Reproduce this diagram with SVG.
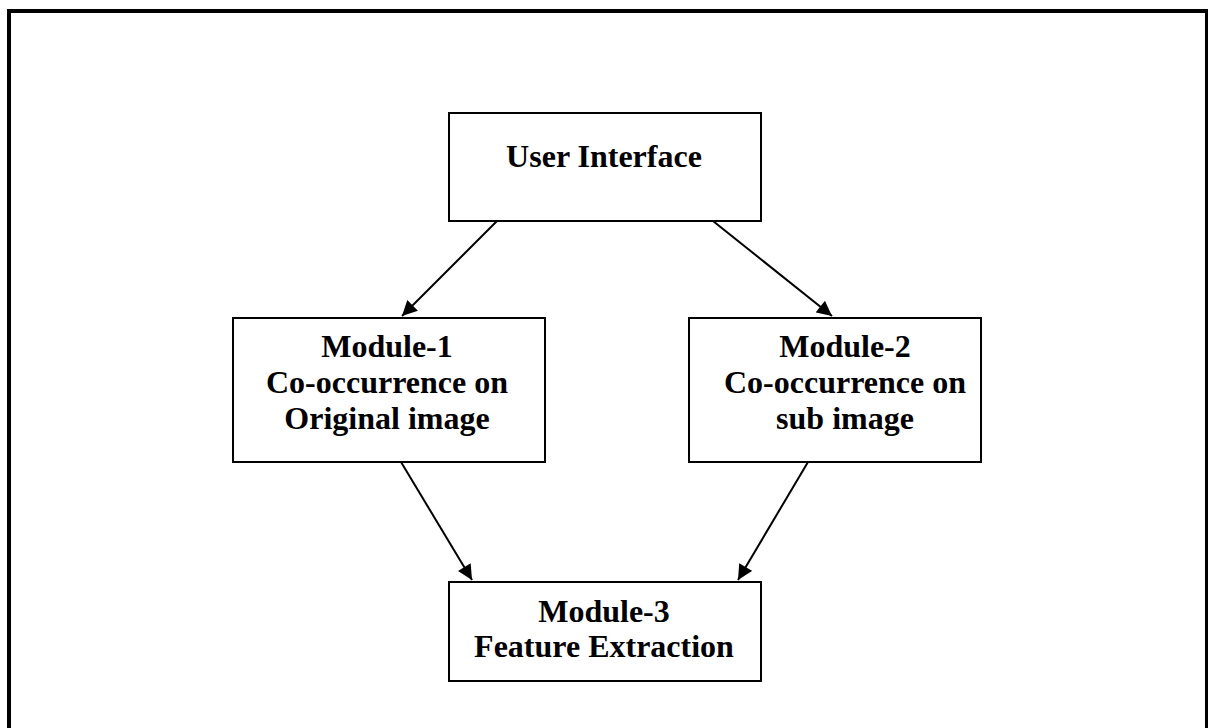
<svg xmlns="http://www.w3.org/2000/svg" width="1208" height="728" viewBox="0 0 1208 728">
  <style>
    .frame { fill: none; stroke: #000; stroke-width: 4; }
    .box { fill: #fff; stroke: #000; stroke-width: 2; }
    .label { font-family: "Liberation Serif", "Times New Roman", serif; font-weight: bold; font-size: 32px; fill: #000; text-anchor: middle; }
    .edge { stroke: #000; stroke-width: 2; fill: none; marker-end: url(#arrow); }
  </style>
  <defs>
    <marker id="arrow" viewBox="0 0 10 10" refX="10" refY="5" markerWidth="8" markerHeight="7.5" markerUnits="strokeWidth" orient="auto">
      <path d="M0,0 L10,5 L0,10 z" fill="#000"/>
    </marker>
  </defs>

  <rect width="1208" height="728" fill="#fff"/>
  <!-- outer frame, bottom edge runs past the page -->
  <rect class="frame" x="9" y="11" width="1198" height="800"/>

  <g id="connectors">
    <line class="edge" x1="497" y1="221" x2="402" y2="316"/>
    <line class="edge" x1="713" y1="221" x2="832" y2="316"/>
    <line class="edge" x1="401" y1="462" x2="472" y2="580"/>
    <line class="edge" x1="808" y1="462" x2="738" y2="580"/>
  </g>

  <g id="user-interface">
    <rect class="box" x="449" y="113" width="312" height="108"/>
    <text class="label" x="604" y="167">User Interface</text>
  </g>

  <g id="module-1">
    <rect class="box" x="233" y="318" width="312" height="144"/>
    <text class="label" x="387" y="357">Module-1</text>
    <text class="label" x="387" y="393">Co-occurrence on</text>
    <text class="label" x="387" y="429">Original image</text>
  </g>

  <g id="module-2">
    <rect class="box" x="689" y="318" width="292" height="144"/>
    <text class="label" x="845" y="357">Module-2</text>
    <text class="label" x="845" y="393">Co-occurrence on</text>
    <text class="label" x="845" y="429">sub image</text>
  </g>

  <g id="module-3">
    <rect class="box" x="449" y="582" width="312" height="99"/>
    <text class="label" x="604" y="622">Module-3</text>
    <text class="label" x="604" y="657">Feature Extraction</text>
  </g>
</svg>
